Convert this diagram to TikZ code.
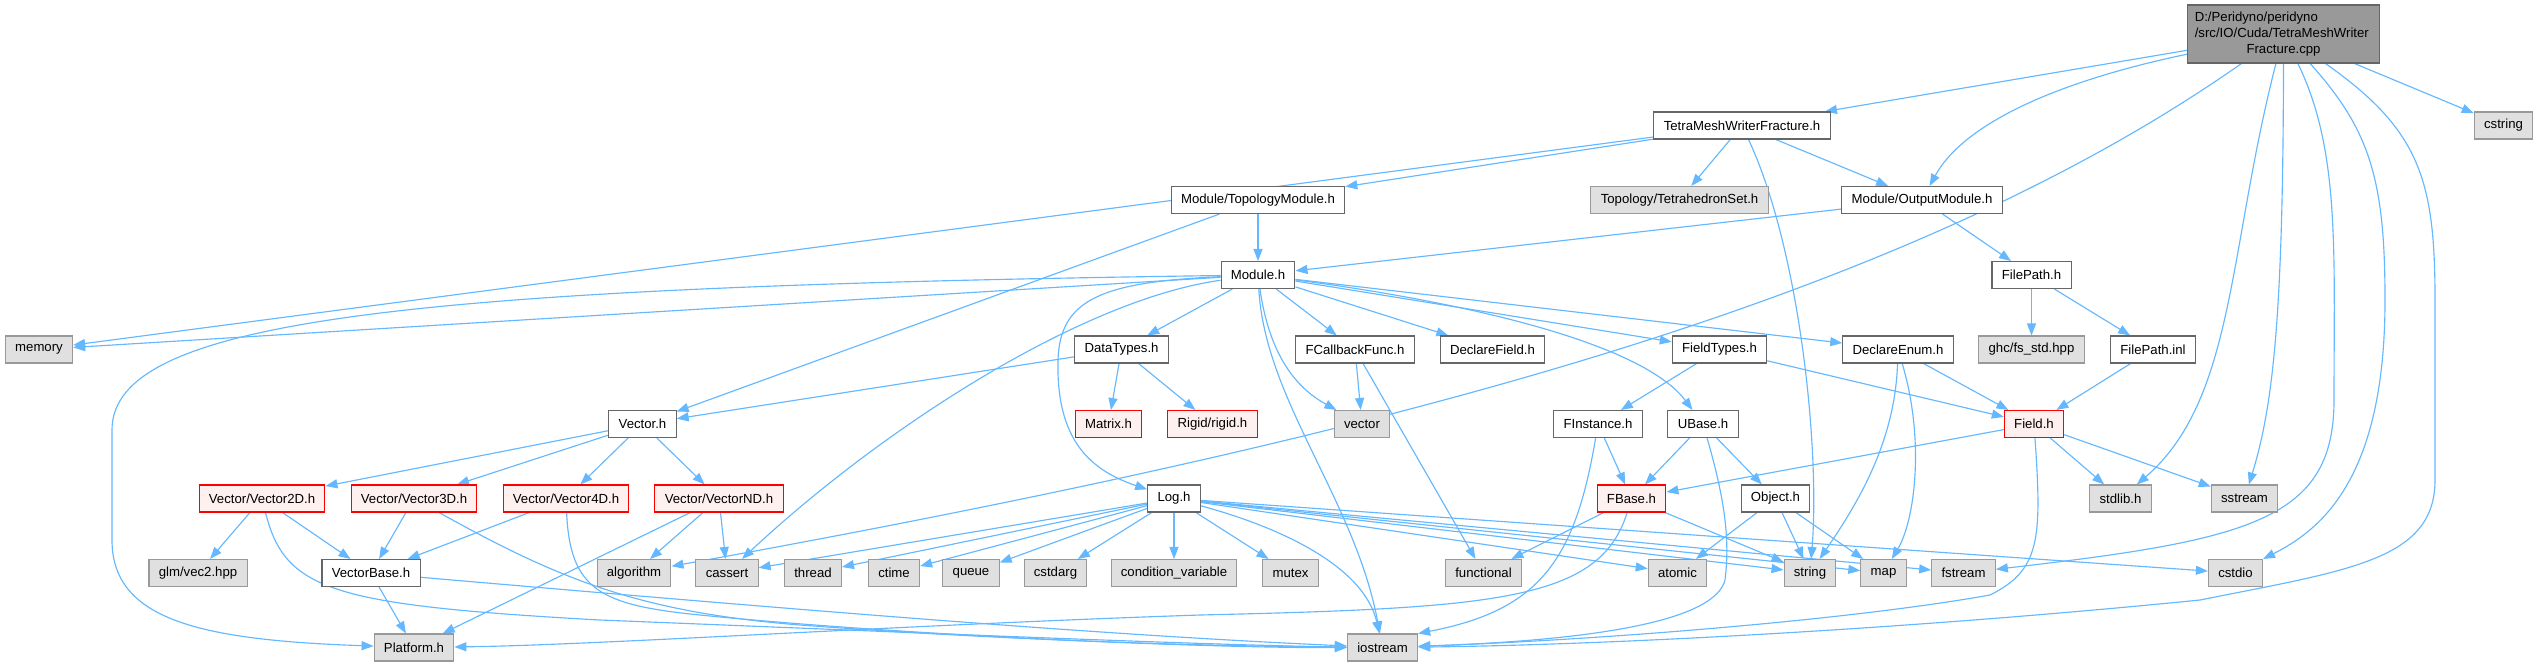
\documentclass[tikz,border=0pt]{standalone}
\usepackage{fontspec}
\newfontfamily\graphfont{Liberation Sans}
\usepackage{tikz}
\usetikzlibrary{arrows.meta,backgrounds}
\definecolor{edgeblue}{HTML}{63B8FF}
\definecolor{nodeline}{HTML}{666666}
\definecolor{sysfill}{HTML}{E0E0E0}
\definecolor{sysline}{HTML}{999999}
\definecolor{redfill}{HTML}{FFF0F0}
\definecolor{redline}{HTML}{FF0000}
\definecolor{srcfill}{HTML}{999999}
\tikzset{
  hdr/.style={
    rectangle, draw=nodeline, fill=white, line width=0.6pt,
    font=\graphfont\fontsize{7.5}{9.1}\selectfont,
    minimum height=0.54cm, inner xsep=5.6pt, inner ysep=1pt
  },
  syshdr/.style={hdr, draw=sysline, fill=sysfill},
  redhdr/.style={hdr, draw=redline, fill=redfill},
  srcnode/.style={
    hdr, fill=srcfill, text width=3.55cm, align=left,
    minimum height=1.16cm, inner xsep=4pt
  },
  dep/.style={-{Triangle[length=0.24cm,width=0.18cm]}, draw=edgeblue, line width=0.65pt},
}

\begin{document}
\begin{tikzpicture}[x=0.02cm, y=-0.02cm]

  \useasboundingbox (0,0) rectangle (2539,667);

  % ── Row positions ────────────────────────────────────────────────────────────
  \def\rowA{34}
  \def\rowB{125.5}
  \def\rowC{200}
  \def\rowD{275}
  \def\rowE{349.5}
  \def\rowF{424}
  \def\rowG{498.5}
  \def\rowH{573}
  \def\rowI{647.5}

  % ── Source file ──────────────────────────────────────────────────────────────
  \node[srcnode] (src) at (2283.5,\rowA)
    {D:/Peridyno/peridyno\\/src/IO/Cuda/TetraMeshWriter\\\makebox[\linewidth]{Fracture.cpp}};

  % ── Headers ──────────────────────────────────────────────────────────────────
  \node[hdr]    (tmwf)   at (1742,\rowB)   {TetraMeshWriterFracture.h};
  \node[syshdr] (cstr)   at (2503.5,\rowB) {cstring};

  \node[hdr]    (topo)   at (1258,\rowC)   {Module/TopologyModule.h};
  \node[syshdr] (tetra)  at (1679.5,\rowC) {Topology/TetrahedronSet.h};
  \node[hdr]    (outm)   at (1922,\rowC)   {Module/OutputModule.h};

  \node[hdr]    (mod)    at (1258,\rowD)   {Module.h};
  \node[hdr]    (fpath)  at (2031.5,\rowD) {FilePath.h};

  \node[syshdr] (mem)    at (39,\rowE)     {memory};
  \node[hdr]    (dtypes) at (1121.5,\rowE) {DataTypes.h};
  \node[hdr]    (fcb)    at (1355,\rowE)   {FCallbackFunc.h};
  \node[hdr]    (dfield) at (1492.5,\rowE) {DeclareField.h};
  \node[hdr]    (ftypes) at (1719.5,\rowE) {FieldTypes.h};
  \node[hdr]    (denum)  at (1898,\rowE)   {DeclareEnum.h};
  \node[syshdr] (ghc)    at (2031.5,\rowE) {ghc/fs\_std.hpp};
  \node[hdr]    (finl)   at (2153,\rowE)   {FilePath.inl};

  \node[hdr]    (vec)    at (642.5,\rowF)  {Vector.h};
  \node[redhdr] (matrix) at (1108.5,\rowF) {Matrix.h};
  \node[redhdr] (rigid)  at (1212.5,\rowF) {Rigid/rigid.h};
  \node[syshdr] (vector) at (1362,\rowF)   {vector};
  \node[hdr]    (finst)  at (1598,\rowF)   {FInstance.h};
  \node[hdr]    (ubase)  at (1703,\rowF)   {UBase.h};
  \node[redhdr] (field)  at (2034,\rowF)   {Field.h};

  \node[redhdr] (v2d)    at (262,\rowG)    {Vector/Vector2D.h};
  \node[redhdr] (v3d)    at (414,\rowG)    {Vector/Vector3D.h};
  \node[redhdr] (v4d)    at (566,\rowG)    {Vector/Vector4D.h};
  \node[redhdr] (vnd)    at (719,\rowG)    {Vector/VectorND.h};
  \node[hdr]    (log)    at (1174,\rowG)   {Log.h};
  \node[redhdr] (fbase)  at (1631.5,\rowG) {FBase.h};
  \node[hdr]    (object) at (1775.5,\rowG) {Object.h};
  \node[syshdr] (stdlib) at (2120.5,\rowG) {stdlib.h};
  \node[syshdr] (sstrm)  at (2244.5,\rowG) {sstream};

  \node[syshdr] (glm)     at (198,\rowH)    {glm/vec2.hpp};
  \node[hdr]    (vbase)   at (371,\rowH)    {VectorBase.h};
  \node[syshdr] (algo)    at (634,\rowH)    {algorithm};
  \node[syshdr] (cassert) at (727,\rowH)    {cassert};
  \node[syshdr] (thread)  at (813,\rowH)    {thread};
  \node[syshdr] (ctime)   at (894,\rowH)    {ctime};
  \node[syshdr] (queue)   at (971,\rowH)    {queue};
  \node[syshdr] (cstdarg) at (1055.5,\rowH) {cstdarg};
  \node[syshdr] (condvar) at (1174,\rowH)   {condition\_variable};
  \node[syshdr] (mutex)   at (1290.5,\rowH) {mutex};
  \node[syshdr] (func)    at (1483.5,\rowH) {functional};
  \node[syshdr] (atomic)  at (1677.5,\rowH) {atomic};
  \node[syshdr] (str)     at (1810,\rowH)   {string};
  \node[syshdr] (mapn)    at (1883.5,\rowH) {map};
  \node[syshdr] (fstrm)   at (1963.5,\rowH) {fstream};
  \node[syshdr] (cstdio)  at (2235.5,\rowH) {cstdio};

  \node[syshdr] (plat)   at (414,\rowI)    {Platform.h};
  \node[syshdr] (iostrm) at (1382.5,\rowI) {iostream};

  \begin{pgfonlayer}{background}
  \fill[white] (0,0) rectangle (2539,667);

  % ════════════════════════════════════════════════════════════════════════════
  % Includes of the source file
  % ════════════════════════════════════════════════════════════════════════════
  \draw[dep] (src) -- (tmwf);
  \draw[dep] (src) .. controls (2040,85) and (1960,130) .. (outm);
  \draw[dep] (src) .. controls (1897,305) and (1371,440) .. (algo);
  \draw[dep] (src) .. controls (2228,250) and (2235,400) .. (stdlib);
  \draw[dep] (src.south) .. controls (2283,300) and (2275,400) .. (sstrm);
  \draw[dep] (src) .. controls (2340,150) and (2334,250) .. (2334,400)
    .. controls (2334,520) and (2250,540) .. (fstrm);
  \draw[dep] (src) .. controls (2370,130) and (2385,180) .. (2385,300)
    .. controls (2385,480) and (2320,530) .. (cstdio);
  \draw[dep] (src) .. controls (2420,130) and (2435,180) .. (2435,300)
    -- (2435,480) .. controls (2435,560) and (2350,570) .. (2200,600)
    .. controls (1900,630) and (1600,645) .. (iostrm);
  \draw[dep] (src) -- (cstr);

  % ── TetraMeshWriterFracture.h ───────────────────────────────────────────────
  \foreach \t in {mem,topo,tetra,outm}
    \draw[dep] (tmwf) -- (\t);
  \draw[dep] (tmwf) .. controls (1800,250) and (1820,450) .. (str);

  % ── Module headers ──────────────────────────────────────────────────────────
  \draw[dep] (topo) -- (mod);
  \draw[dep] (topo) -- (vec);
  \draw[dep] (outm) -- (mod);
  \draw[dep] (outm) -- (fpath);

  \foreach \t in {mem,dtypes,fcb,dfield,ftypes,denum}
    \draw[dep] (mod) -- (\t);
  \draw[dep] (mod) .. controls (400,287) and (112,320) .. (112,430)
    -- (112,540) .. controls (112,620) and (200,640) .. (plat);
  \draw[dep] (mod) .. controls (1080,300) and (880,430) .. (cassert);
  \draw[dep] (mod) .. controls (1100,282) and (1060,300) .. (1058,360)
    .. controls (1056,440) and (1090,470) .. (log);
  \draw[dep] (mod) .. controls (1270,360) and (1300,390) .. (vector);
  \draw[dep] (mod) .. controls (1265,400) and (1355,500) .. (iostrm);
  \draw[dep] (mod) .. controls (1450,300) and (1640,340) .. (ubase);

  % ── File path ───────────────────────────────────────────────────────────────
  \draw[dep] (fpath) -- (ghc);
  \draw[dep] (fpath) -- (finl);
  \draw[dep] (finl) -- (field);

  % ── Types and fields ────────────────────────────────────────────────────────
  \draw[dep] (dtypes) -- (vec);
  \draw[dep] (dtypes) -- (matrix);
  \draw[dep] (dtypes) -- (rigid);
  \draw[dep] (fcb) -- (vector);
  \draw[dep] (fcb) -- (func);
  \draw[dep] (ftypes) -- (finst);
  \draw[dep] (ftypes) -- (field);
  \draw[dep] (denum) -- (field);
  \draw[dep] (denum) .. controls (1895,440) and (1860,500) .. (str);
  \draw[dep] (denum) .. controls (1925,440) and (1915,520) .. (mapn);

  \draw[dep] (finst) -- (fbase);
  \draw[dep] (finst) .. controls (1575,560) and (1540,610) .. (iostrm.north east);
  \draw[dep] (ubase) -- (fbase);
  \draw[dep] (ubase) -- (object);
  \draw[dep] (ubase) .. controls (1725,500) and (1730,540) .. (1725,580)
    .. controls (1715,620) and (1600,640) .. (iostrm);

  \draw[dep] (field) -- (fbase);
  \draw[dep] (field) -- (stdlib);
  \draw[dep] (field) -- (sstrm);
  \draw[dep] (field) .. controls (2042,540) and (2040,570) .. (1990,595)
    .. controls (1850,620) and (1600,640) .. (iostrm);

  \draw[dep] (fbase) -- (func);
  \draw[dep] (fbase) -- (str);
  \draw[dep] (fbase) .. controls (1600,600) and (1500,608) .. (1200,615)
    .. controls (900,625) and (600,645) .. (plat);

  \foreach \t in {atomic,str,mapn}
    \draw[dep] (object) -- (\t);

  % ── Vectors ─────────────────────────────────────────────────────────────────
  \foreach \t in {v2d,v3d,v4d,vnd}
    \draw[dep] (vec) -- (\t);

  \draw[dep] (v2d) -- (glm);
  \draw[dep] (v2d) -- (vbase);
  \draw[dep] (v2d) .. controls (285,590) and (330,605) .. (600,620)
    .. controls (900,632) and (1200,645) .. (iostrm);
  \draw[dep] (v3d) -- (vbase);
  \draw[dep] (v3d) .. controls (560,580) and (640,612) .. (800,625)
    .. controls (1000,640) and (1200,646) .. (iostrm);
  \draw[dep] (v4d) -- (vbase);
  \draw[dep] (v4d) .. controls (570,590) and (600,605) .. (700,615)
    .. controls (900,635) and (1200,648) .. (iostrm);
  \draw[dep] (vnd) -- (plat);
  \draw[dep] (vnd) -- (algo);
  \draw[dep] (vnd) -- (cassert);
  \draw[dep] (vbase) -- (plat);
  \draw[dep] (vbase) .. controls (800,610) and (1100,635) .. (iostrm);

  % ── Log.h ───────────────────────────────────────────────────────────────────
  \foreach \t in {cassert,thread,ctime,queue,cstdarg,condvar,mutex,atomic,str,mapn,fstrm,cstdio}
    \draw[dep] (log) -- (\t);
  \draw[dep] (log) .. controls (1290,530) and (1365,570) .. (iostrm);
  \end{pgfonlayer}

\end{tikzpicture}
\end{document}
